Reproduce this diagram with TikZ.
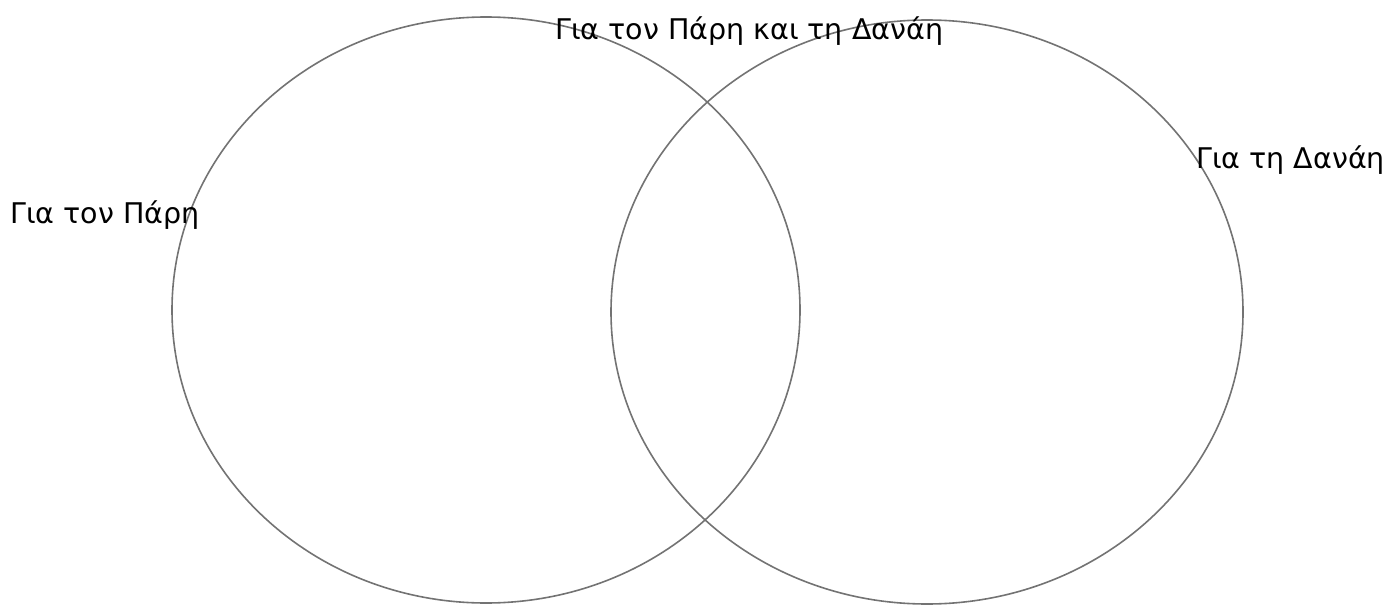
\documentclass[tikz,border=0pt]{standalone}
\usepackage{fontspec}
\setmainfont{DejaVu Sans}
\begin{document}
\begin{tikzpicture}[x=1pt,y=-1pt,
  ring/.style={draw=black!55, line width=1.6pt},
  lbl/.style={anchor=base west, inner sep=0pt, font=\fontsize{28.5}{32}\selectfont}]
\useasboundingbox (0,0) rectangle (1397,607);
\draw[ring] (486,310) ellipse [x radius=314, y radius=293];
\draw[ring] (927,312) ellipse [x radius=316, y radius=292];
\node[lbl] (paris) at (10,223) {Για τον Πάρη};
\node[lbl] (danai) at (1196,168) {Για τη Δανάη};
\node[lbl] (both) at (555,40) {Για τον Πάρη και τη Δανάη};
\end{tikzpicture}
\end{document}
